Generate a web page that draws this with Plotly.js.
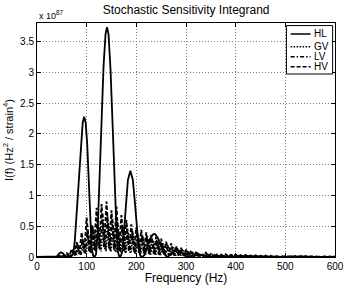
<!DOCTYPE html>
<html>
<head>
<meta charset="utf-8">
<script src="https://cdn.plot.ly/plotly-3.0.1.min.js"></script>
<style>html,body{margin:0;padding:0;background:#fff;}#chart{width:346px;height:285px;}</style>
</head>
<body>
<div id="chart"></div>
<script>
// Values in units of 1e87 Hz^2/strain^4
const hlFreq = [0,20,36,40,44,48,52,56,60,66,70,73,76,80,84,88,92,95,98,101,104,107,110,113,116,119,122,126,130,134,138,141,144,148,152,156,160,163,166,169,172,175,179,183,188,193,197,201,205,208,212,216,222,228,234,238,244,250,256,262,268,275,282,289,296,303,310,318,326,334,342,350,360,370,380,390,400,420,440,460,480,500,520,540,560,580,600];
const hlVal  = [0,0,0,0.01,0.05,0.077,0.06,0.02,0,0,0.02,0.05,0.25,0.75,1.35,1.85,2.18,2.28,2.18,1.85,1.3,0.65,0.15,0.02,0,0.05,0.4,1.3,2.3,3.1,3.62,3.73,3.62,3.05,2.2,1.25,0.45,0.08,0,0.02,0.1,0.4,0.85,1.25,1.4,1.25,0.9,0.45,0.12,0.02,0,0.03,0.16,0.3,0.37,0.37,0.3,0.16,0.05,0,0.03,0.08,0.11,0.09,0.04,0,0.01,0.03,0.04,0.03,0.01,0,0.015,0.02,0.01,0,0.008,0.01,0,0.006,0,0.005,0,0.004,0,0.003,0];

// Sampled every 5 Hz starting at the given frequency
const hvStart = 40;
const hvVal = [0,0.01,0.03,0.01,0.06,0.015,0.13,0.03,0.24,0.05,0.4,0.07,0.64,0.09,0.52,0.12,0.8,0.14,0.86,0.16,0.9,0.14,0.76,0.12,0.82,0.11,0.68,0.1,0.6,0.09,0.53,0.08,0.48,0.07,0.44,0.06,0.4,0.05,0.36,0.05,0.33,0.04,0.3,0.04,0.25,0.03,0.22,0.03,0.18,0.02,0.15,0.02,0.12,0.015,0.1,0.01,0.07,0.01,0.06,0.01,0.07,0.008,0.05,0.006,0.055,0.006,0.04,0.005,0.045,0.005,0.035,0.004,0.04,0.004,0.03,0.003,0.032,0.003,0.025,0.003,0.026,0.003,0.02,0.002,0.022,0.002,0.018,0.002,0.02,0.002,0.016,0.002,0.017,0.002,0.014,0.002,0.015,0.002,0.012,0.002,0.013,0.002,0.011,0.002,0.012,0.002,0.01,0.002,0.011,0.002,0.009,0.002,0.01];
const lvStart = 42;
const lvVal = [0,0.01,0.02,0.005,0.05,0.01,0.1,0.02,0.2,0.04,0.3,0.06,0.45,0.08,0.5,0.1,0.62,0.12,0.7,0.12,0.66,0.1,0.62,0.1,0.58,0.09,0.52,0.08,0.46,0.07,0.42,0.06,0.4,0.06,0.36,0.05,0.34,0.04,0.3,0.04,0.27,0.03,0.24,0.03,0.2,0.02,0.17,0.02,0.14,0.015,0.12,0.012,0.1,0.01,0.08,0.008,0.06,0.006,0.05,0.006,0.06,0.005,0.045,0.005,0.04,0.004,0.035,0.004,0.03,0.003,0.032,0.003,0.026,0.003,0.025,0.002,0.02,0.002,0.021,0.002,0.017,0.002,0.018,0.002,0.015,0.002,0.014,0.002,0.013,0.002,0.012,0.002,0.011,0.002,0.01,0.002,0.01,0.002,0.009,0.002,0.009,0.002,0.008,0.002,0.008,0.002,0.008,0.002];
const gvStart = 44;
const gvVal = [0,0.01,0.02,0.01,0.04,0.01,0.08,0.02,0.16,0.03,0.25,0.05,0.35,0.06,0.45,0.08,0.52,0.09,0.56,0.09,0.55,0.08,0.5,0.08,0.46,0.07,0.42,0.06,0.4,0.06,0.38,0.05,0.35,0.05,0.33,0.04,0.3,0.04,0.27,0.03,0.25,0.03,0.22,0.03,0.19,0.02,0.16,0.02,0.13,0.015,0.11,0.012,0.09,0.01,0.07,0.008,0.06,0.006,0.05,0.005,0.045,0.005,0.04,0.004,0.035,0.004,0.03,0.003,0.028,0.003,0.025,0.003,0.022,0.002,0.02,0.002,0.018,0.002,0.016,0.002,0.015,0.002,0.014,0.002,0.012,0.002,0.011,0.002,0.01,0.002,0.01,0.002,0.009,0.002,0.009,0.002,0.008,0.002,0.008,0.002,0.007,0.002,0.007,0.002,0.007,0.002];

const seriesNames = ['HL', 'GV', 'LV', 'HV'];
const xTicks = [0,100,200,300,400,500,600];
const yTicks = [0,0.5,1,1.5,2,2.5,3,3.5];
const yTickText = ['0','0.5','1','1.5','2','2.5','3','3.5'];

const font = 'Liberation Sans, Arial, Helvetica, sans-serif';
const styles = [
  {width: 1.8, dash: 'solid'},
  {width: 1.5, dash: '1.5px,1.5px'},
  {width: 1.8, dash: '4px,2px,1.5px,2px'},
  {width: 1.9, dash: '4px,2px'}
];

const traces = [
  {x: hlFreq, y: hlVal, name: seriesNames[0], mode: 'lines', line: Object.assign({color: '#000'}, styles[0])},
  {x0: gvStart, dx: 5, y: gvVal, name: seriesNames[1], mode: 'lines', line: Object.assign({color: '#000'}, styles[1])},
  {x0: lvStart, dx: 5, y: lvVal, name: seriesNames[2], mode: 'lines', line: Object.assign({color: '#000'}, styles[2])},
  {x0: hvStart, dx: 5, y: hvVal, name: seriesNames[3], mode: 'lines', line: Object.assign({color: '#000'}, styles[3])}
];

const axisCommon = {
  showline: true, linecolor: '#000', linewidth: 1, mirror: 'ticks',
  ticks: 'inside', ticklen: 4, tickcolor: '#000',
  showgrid: true, gridcolor: '#808080', griddash: '1px,2px', gridwidth: 1,
  zeroline: false, tickfont: {family: font, size: 10, color: '#000'}
};

// Legend drawn in paper coordinates
const legX0 = 0.837, legX1 = 0.992, legY0 = 0.782, legY1 = 0.989;
const rowY = [0.953, 0.899, 0.856, 0.813];
const lineX0 = 0.851, lineX1 = 0.918, textX = 0.923;

const shapes = [{
  type: 'rect', xref: 'paper', yref: 'paper', x0: legX0, x1: legX1, y0: legY0, y1: legY1,
  line: {color: '#000', width: 1}, fillcolor: '#fff', layer: 'above'
}];
const annotations = [{
  xref: 'paper', yref: 'paper', x: 0, y: 1, xanchor: 'left', yanchor: 'bottom',
  text: 'x 10<sup>87</sup>', showarrow: false, font: {family: font, size: 9, color: '#000'}
}];
seriesNames.forEach((nm, i) => {
  shapes.push({type: 'line', xref: 'paper', yref: 'paper', x0: lineX0, x1: lineX1, y0: rowY[i], y1: rowY[i],
    line: {color: '#000', width: Math.min(styles[i].width, 1.5), dash: styles[i].dash}, layer: 'above'});
  annotations.push({xref: 'paper', yref: 'paper', x: textX, y: rowY[i], xanchor: 'left', yanchor: 'middle',
    text: nm, showarrow: false, font: {family: font, size: 10, color: '#000'}});
});

const layout = {
  width: 346, height: 285,
  margin: {l: 37, r: 11, t: 23, b: 28, pad: 0},
  paper_bgcolor: '#fff', plot_bgcolor: '#fff',
  font: {family: font, color: '#000'},
  title: {text: 'Stochastic Sensitivity Integrand', font: {family: font, size: 12, color: '#000'}, x: 0.538, xanchor: 'center', y: 0.965, yanchor: 'middle'},
  xaxis: Object.assign({}, axisCommon, {
    range: [0, 600], tickvals: xTicks, ticktext: xTicks.map(String),
    title: {text: 'Frequency (Hz)', font: {family: font, size: 12, color: '#000'}, standoff: 2}
  }),
  yaxis: Object.assign({}, axisCommon, {
    range: [0, 3.8], tickvals: yTicks, ticktext: yTickText,
    title: {text: 'I(f) (Hz<sup>2</sup> / strain<sup>4</sup>)', font: {family: font, size: 11, color: '#000'}, standoff: 4}
  }),
  showlegend: false,
  shapes: shapes,
  annotations: annotations
};

Plotly.newPlot('chart', traces, layout, {displayModeBar: false, staticPlot: true});
</script>
</body>
</html>
